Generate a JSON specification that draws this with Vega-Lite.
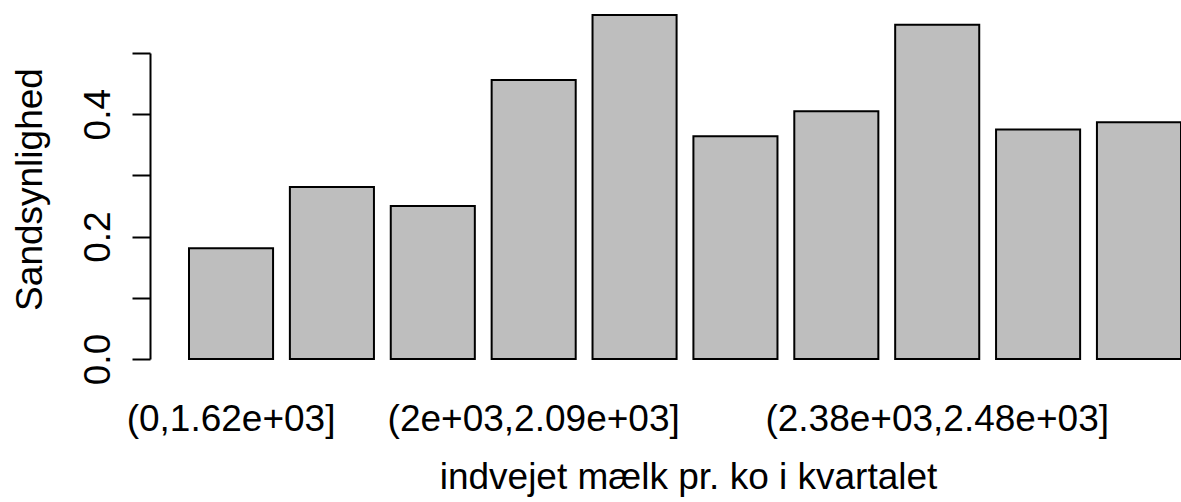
{
  "$schema": "https://vega.github.io/schema/vega-lite/v6.json",
  "autosize": {"type": "none"},
  "width": 1009,
  "height": 306,
  "padding": {"left": 172, "top": 53, "right": 0, "bottom": 143},
  "background": "white",
  "config": {
    "view": {"stroke": null},
    "font": "Liberation Sans",
    "axis": {"grid": false, "labelColor": "black", "titleColor": "black", "labelFont": "Liberation Sans", "titleFont": "Liberation Sans", "labelLimit": 0}
  },
  "data": {
    "values": [
      {"bin": "(0,1.62e+03]", "p": 0.181},
      {"bin": "(1.62e+03,1.8e+03]", "p": 0.281},
      {"bin": "(1.8e+03,2e+03]", "p": 0.250},
      {"bin": "(2e+03,2.09e+03]", "p": 0.456},
      {"bin": "(2.09e+03,2.18e+03]", "p": 0.562},
      {"bin": "(2.18e+03,2.28e+03]", "p": 0.364},
      {"bin": "(2.28e+03,2.38e+03]", "p": 0.405},
      {"bin": "(2.38e+03,2.48e+03]", "p": 0.546},
      {"bin": "(2.48e+03,2.62e+03]", "p": 0.375},
      {"bin": "(2.62e+03,4e+03]", "p": 0.387}
    ]
  },
  "mark": {"type": "bar", "fill": "#bebebe", "stroke": "black", "strokeWidth": 2},
  "encoding": {
    "x": {
      "field": "bin",
      "type": "nominal",
      "sort": null,
      "scale": {"paddingInner": 0.1667, "paddingOuter": 0.08426, "align": 1},
      "axis": {
        "title": "indvejet mælk pr. ko i kvartalet",
        "domain": false,
        "ticks": false,
        "tickSize": 0,
        "labelAngle": 0,
        "labelFontSize": 37,
        "labelLimit": 0,
        "labelBaseline": "alphabetic",
        "labelPadding": 71,
        "labelOverlap": false,
        "labelExpr": "indexof(['(0,1.62e+03]','(2e+03,2.09e+03]','(2.38e+03,2.48e+03]'], datum.label) >= 0 ? datum.label : ''",
        "titleFontSize": 37,
        "titleFontWeight": "normal",
        "titleAlign": "center",
        "titleBaseline": "alphabetic",
        "titleX": 516,
        "titleY": 129
      }
    },
    "y": {
      "field": "p",
      "type": "quantitative",
      "scale": {"domain": [0, 0.5], "nice": false, "zero": true},
      "axis": {
        "title": "Sandsynlighed",
        "values": [0, 0.1, 0.2, 0.3, 0.4, 0.5],
        "format": ".1f",
        "labelExpr": "indexof(['0.0','0.2','0.4'], datum.label) >= 0 ? datum.label : ''",
        "offset": 22,
        "domainColor": "black",
        "domainWidth": 2,
        "tickColor": "black",
        "tickWidth": 2,
        "tickSize": 18,
        "labelAngle": -90,
        "labelAlign": "center",
        "labelBaseline": "alphabetic",
        "labelPadding": 23,
        "labelFontSize": 37,
        "labelFlush": false,
        "labelOverlap": false,
        "titleFontSize": 37,
        "titleFontWeight": "normal",
        "titleAngle": -90,
        "titleAlign": "center",
        "titleBaseline": "alphabetic",
        "titleX": -109,
        "titleY": 136
      }
    }
  }
}
